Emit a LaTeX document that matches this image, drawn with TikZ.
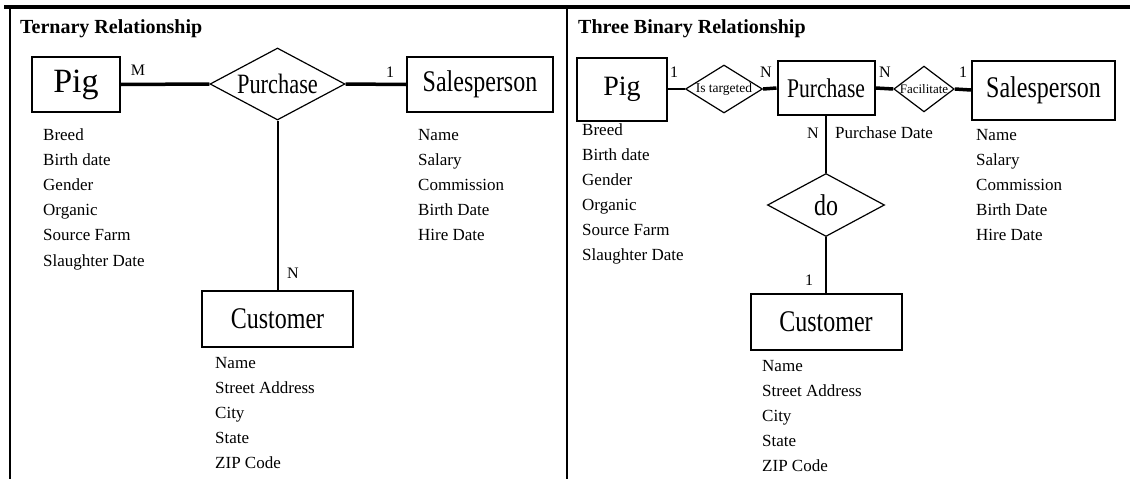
\documentclass[tikz,border=0pt]{standalone}
\usepackage{fontspec}
\setmainfont{Liberation Serif}
\newfontfamily\narrowfont[FakeStretch=0.8]{Liberation Serif}
\usetikzlibrary{shapes.geometric}
\begin{document}
\begin{tikzpicture}[x=1pt,y=-1pt,
    entity/.style={draw,line width=2pt,inner sep=0pt,minimum width=151pt,minimum height=56pt,font=\narrowfont\fontsize{30}{30}\selectfont},
    rel/.style={draw,diamond,line width=1.2pt,inner sep=0pt},
    attrs/.style={anchor=north west,inner sep=0pt,align=left,font=\fontsize{17}{25}\selectfont},
    card/.style={inner sep=0pt,font=\fontsize{16}{16}\selectfont},
    title/.style={anchor=base west,inner sep=0pt,font=\fontsize{20}{20}\selectfont\bfseries},
    heavy/.style={line width=3.5pt},
    link/.style={line width=2pt}]
  \useasboundingbox (0,0) rectangle (1130,479);
  \draw[line width=4pt] (4,7) -- (1130,7);
  \draw[line width=2pt] (10,7) -- (10,479);
  \draw[line width=2pt] (566.5,7) -- (566.5,479);

  % ternary relationship
  \node[title] (tern) at (20,33) {Ternary Relationship};
  \draw
    (76,84.5) node[entity,minimum width=88pt,minimum height=55pt,font=\fontsize{34}{34}\selectfont] (pigA){Pig}
    (277.5,84) node[rel,minimum width=135pt,minimum height=72pt,shape aspect=1.875,font=\narrowfont\fontsize{28}{28}\selectfont] (buyA){Purchase}
    (480,84.5) node[entity,minimum width=146pt,minimum height=55pt] (salesA){Salesperson}
    (277.5,319) node[entity] (custA){Customer};
  \node[attrs] (pigattrA) at (43,129) {Breed\\Birth date\\Gender\\Organic\\Source Farm\\[0.4pt]Slaughter Date};
  \node[attrs] (salesattrA) at (418,129) {Name\\Salary\\Commission\\Birth Date\\Hire Date};
  \node[attrs] (custattrA) at (215,357) {Name\\Street Address\\City\\State\\ZIP Code};
  \node[card] (mA) at (138,70) {M};
  \node[card] (oneA) at (390,72) {1};
  \node[card] (nA) at (293,273) {N};
  \begin{scope}[-]
    \draw[heavy] (pigA.east) to (buyA.west);
    \draw[heavy] (buyA.east) to (salesA.west);
    \draw[link] (buyA.south) to (custA.north);
  \end{scope}

  % three binary relationships
  \node[title] (bin) at (578,33) {Three Binary Relationship};
  \draw
    (622,89) node[entity,minimum width=90pt,minimum height=63pt,font=\fontsize{28}{28}\selectfont] (pigB){Pig}
    (724,89) node[rel,minimum width=77pt,minimum height=48pt,shape aspect=1.6,font=\fontsize{13.5}{13.5}\selectfont] (tgtB){Is targeted}
    (826,88) node[entity,minimum width=97pt,minimum height=54pt,font=\narrowfont\fontsize{27}{27}\selectfont] (buyB){Purchase}
    (924,89) node[rel,minimum width=58pt,minimum height=44pt,shape aspect=1.32,font=\fontsize{13}{13}\selectfont] (facB){Facilitate}
    (1043.5,90) node[entity,minimum width=143pt,minimum height=59pt] (salesB){Salesperson}
    (826,205) node[rel,minimum width=117pt,minimum height=63pt,shape aspect=1.86,font=\narrowfont\fontsize{30}{30}\selectfont] (doB){do}
    (826,322) node[entity] (custB){Customer};
  \node[attrs] (pigattrB) at (582,123.5) {Breed\\Birth date\\Gender\\Organic\\Source Farm\\Slaughter Date};
  \node[attrs] (salesattrB) at (976,129) {Name\\Salary\\Commission\\Birth Date\\Hire Date};
  \node[attrs] (custattrB) at (762,360) {Name\\Street Address\\City\\State\\ZIP Code};
  \node[attrs,anchor=west] (dateB) at (835,133) {Purchase Date};
  \node[card] (oneB) at (674,72) {1};
  \node[card] (nB) at (766,72) {N};
  \node[card] (nC) at (885,72) {N};
  \node[card] (oneC) at (963,72) {1};
  \node[card] (nD) at (813,133) {N};
  \node[card] (oneD) at (809,280) {1};
  \begin{scope}[-]
    \draw[line width=1.5pt] (pigB.east) to (tgtB.west);
    \draw[heavy] (tgtB.east) to (buyB.west);
    \draw[heavy] (buyB.east) to (facB.west);
    \draw[heavy] (facB.east) to (salesB.west);
    \draw[link] (buyB.south) to (doB.north);
    \draw[link] (doB.south) to (custB.north);
  \end{scope}
\end{tikzpicture}
\end{document}
